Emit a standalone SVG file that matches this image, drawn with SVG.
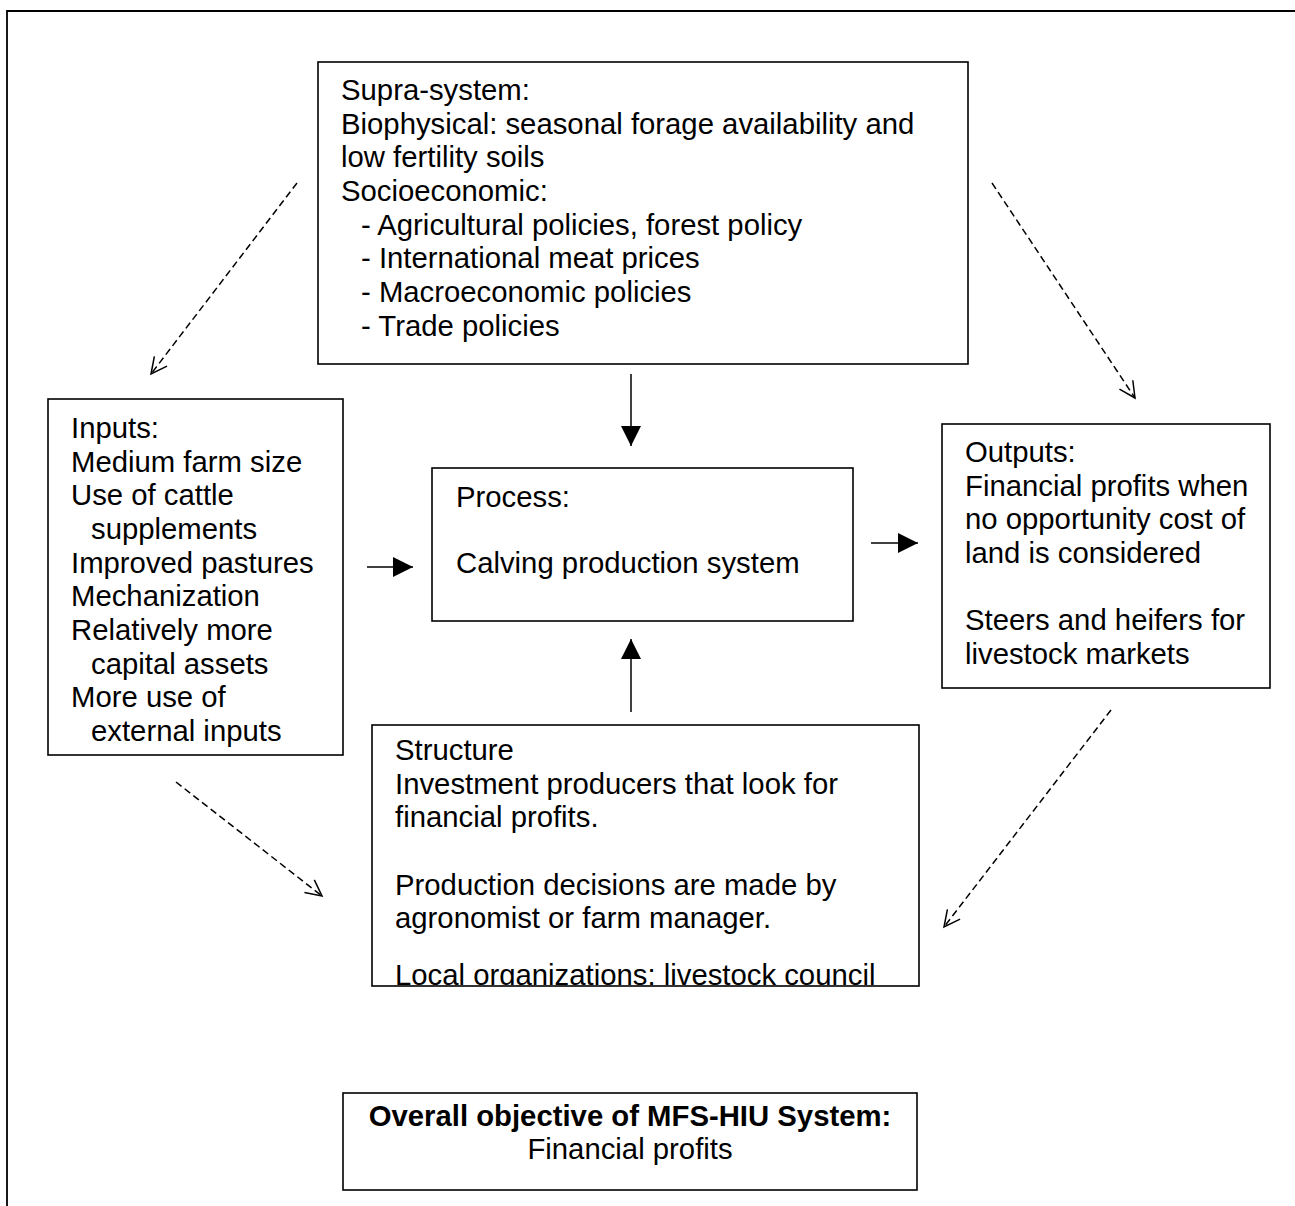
<svg xmlns="http://www.w3.org/2000/svg" width="1295" height="1206" viewBox="0 0 1295 1206">
<style>
.box{fill:#fff;stroke:#000;stroke-width:1.6}
.t{font-family:"Liberation Sans",Arial,sans-serif;font-size:29.3px;fill:#000}
.b{font-weight:bold}
.solid{stroke:#000;stroke-width:1.5;fill:none}
.dash{stroke:#000;stroke-width:1.5;fill:none;stroke-dasharray:7 4}
.head{stroke:#000;stroke-width:1.5;fill:none}
</style>
<defs>
<marker id="ah" markerWidth="20" markerHeight="20" refX="20" refY="10" orient="auto" markerUnits="userSpaceOnUse">
<path d="M0,0 L20,10 L0,20 Z" fill="#000"/>
</marker>
<marker id="ov" markerWidth="22" markerHeight="22" refX="19" refY="11" orient="auto" markerUnits="userSpaceOnUse">
<path d="M3,3 L19,11 L3,19" class="head"/>
</marker>
<clipPath id="clipS"><rect x="372" y="725" width="547" height="260"/></clipPath>
</defs>
<rect width="1295" height="1206" fill="#fff"/>
<g id="frame"><path d="M7,1206 L7,11 L1295,11" fill="none" stroke="#000" stroke-width="1.8"/></g>

<g id="connectors">
<line class="solid" x1="631" y1="374" x2="631" y2="446" marker-end="url(#ah)"/>
<line class="solid" x1="631" y1="712" x2="631" y2="639" marker-end="url(#ah)"/>
<line class="solid" x1="367" y1="567" x2="413" y2="567" marker-end="url(#ah)"/>
<line class="solid" x1="871" y1="543" x2="918" y2="543" marker-end="url(#ah)"/>
<line class="dash" x1="297" y1="183" x2="151" y2="374" marker-end="url(#ov)"/>
<line class="dash" x1="992" y1="183" x2="1135" y2="398" marker-end="url(#ov)"/>
<line class="dash" x1="176" y1="782" x2="322" y2="896" marker-end="url(#ov)"/>
<line class="dash" x1="1111" y1="710" x2="944" y2="927" marker-end="url(#ov)"/>
</g>

<g id="supra">
<rect class="box" x="318" y="62" width="650" height="302"/>
<text class="t" x="341" y="100">Supra-system:</text>
<text class="t" x="341" y="133.5">Biophysical: seasonal forage availability and</text>
<text class="t" x="341" y="167">low fertility soils</text>
<text class="t" x="341" y="201">Socioeconomic:</text>
<text class="t" x="361" y="234.5">- Agricultural policies, forest policy</text>
<text class="t" x="361" y="268">- International meat prices</text>
<text class="t" x="361" y="302">- Macroeconomic policies</text>
<text class="t" x="361" y="335.5">- Trade policies</text>
</g>

<g id="inputs">
<rect class="box" x="48" y="399" width="295" height="356"/>
<text class="t" x="71" y="438">Inputs:</text>
<text class="t" x="71" y="472">Medium farm size</text>
<text class="t" x="71" y="505">Use of cattle</text>
<text class="t" x="91" y="539">supplements</text>
<text class="t" x="71" y="573">Improved pastures</text>
<text class="t" x="71" y="606">Mechanization</text>
<text class="t" x="71" y="640">Relatively more</text>
<text class="t" x="91" y="674">capital assets</text>
<text class="t" x="71" y="707">More use of</text>
<text class="t" x="91" y="741">external inputs</text>
</g>

<g id="process">
<rect class="box" x="432" y="468" width="421" height="153"/>
<text class="t" x="456" y="507">Process:</text>
<text class="t" x="456" y="573">Calving production system</text>
</g>

<g id="outputs">
<rect class="box" x="942" y="424" width="328" height="264"/>
<text class="t" x="965" y="462">Outputs:</text>
<text class="t" x="965" y="496">Financial profits when</text>
<text class="t" x="965" y="529">no opportunity cost of</text>
<text class="t" x="965" y="563">land is considered</text>
<text class="t" x="965" y="630">Steers and heifers for</text>
<text class="t" x="965" y="664">livestock markets</text>
</g>

<g id="structure">
<rect class="box" x="372" y="725" width="547" height="261"/>
<g clip-path="url(#clipS)">
<text class="t" x="395" y="760">Structure</text>
<text class="t" x="395" y="794">Investment producers that look for</text>
<text class="t" x="395" y="827">financial profits.</text>
<text class="t" x="395" y="895">Production decisions are made by</text>
<text class="t" x="395" y="928">agronomist or farm manager.</text>
<text class="t" x="395" y="985">Local organizations: livestock council</text>
</g>
</g>

<g id="objective">
<rect class="box" x="343" y="1093" width="574" height="97"/>
<text class="t b" x="630" y="1126" text-anchor="middle">Overall objective of MFS-HIU System:</text>
<text class="t" x="630" y="1159" text-anchor="middle">Financial profits</text>
</g>
</svg>
